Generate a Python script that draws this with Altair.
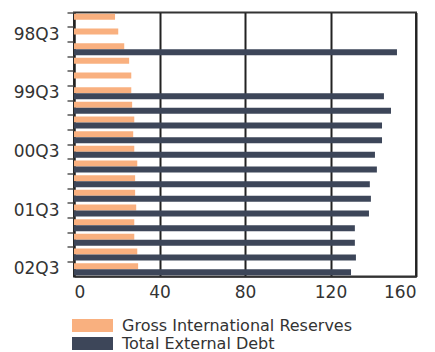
import altair as alt
import pandas as pd

quarters = ['98Q2', '98Q3', '98Q4', '99Q1', '99Q2', '99Q3', '99Q4', '00Q1', '00Q2',
            '00Q3', '00Q4', '01Q1', '01Q2', '01Q3', '01Q4', '02Q1', '02Q2', '02Q3']
reserves = [19.2, 20.7, 23.5, 25.8, 26.8, 26.8, 27.2, 28.2, 27.7,
            28.2, 29.6, 28.6, 28.6, 29.1, 28.2, 28.2, 29.6, 30.0]
debt = [None, None, 151.1, None, None, 145.0, 148.3, 144.1, 144.1,
        140.8, 141.7, 138.4, 138.9, 138.0, 131.4, 131.4, 131.9, 129.6]
series = ['Gross International Reserves', 'Total External Debt']
colors = ['#F9B07F', '#3D4659']

rows = []
for q, r, d in zip(quarters, reserves, debt):
    rows.append({'quarter': q, 'series': series[0], 'value': r})
    if d is not None:
        rows.append({'quarter': q, 'series': series[1], 'value': d})
df = pd.DataFrame(rows)

FONT = 'DejaVu Sans'

chart = alt.Chart(df).mark_bar().encode(
    y=alt.Y('quarter:N', sort=quarters,
            scale=alt.Scale(paddingInner=0, paddingOuter=0),
            axis=alt.Axis(title=None, bandPosition=0,
                          tickSize=7, tickColor='#555',
                          tickWidth=1.5, domainColor='#222', domainWidth=2,
                          labelExpr="slice(datum.value, 2) == 'Q3' ? datum.value : ''",
                          labelOverlap=False, labelFontSize=17, labelColor='#333',
                          labelFont=FONT, labelPadding=8, grid=False)),
    yOffset=alt.YOffset('series:N', sort=series,
                        scale=alt.Scale(paddingInner=0, paddingOuter=0.22)),
    x=alt.X('value:Q', scale=alt.Scale(domain=[0, 160], nice=False),
            axis=alt.Axis(title=None, values=[0, 40, 80, 120, 160], tickSize=0,
                          labelFontSize=17, labelColor='#333', labelFont=FONT,
                          labelPadding=8, grid=True, gridColor='#222', gridWidth=2,
                          domainColor='#333', domainWidth=1.5)),
    color=alt.Color('series:N',
                    scale=alt.Scale(domain=series, range=colors),
                    legend=alt.Legend(title=None, orient='none', legendX=-2, legendY=304,
                                      direction='vertical', padding=0,
                                      symbolType='M-1,-0.32H1V0.32H-1Z', symbolSize=1681,
                                      symbolStrokeWidth=0, symbolOpacity=1,
                                      clipHeight=18, rowPadding=0,
                                      labelFontSize=16, labelFont=FONT, labelColor='#333',
                                      labelOffset=9, labelLimit=400)),
).properties(
    width=342, height=264,
    padding={'top': 1.5, 'left': 5, 'right': 5, 'bottom': 0},
).configure_view(
    stroke='#333', strokeWidth=2
)

chart.save("out.html", embed_options={"renderer": "svg", "actions": False})
